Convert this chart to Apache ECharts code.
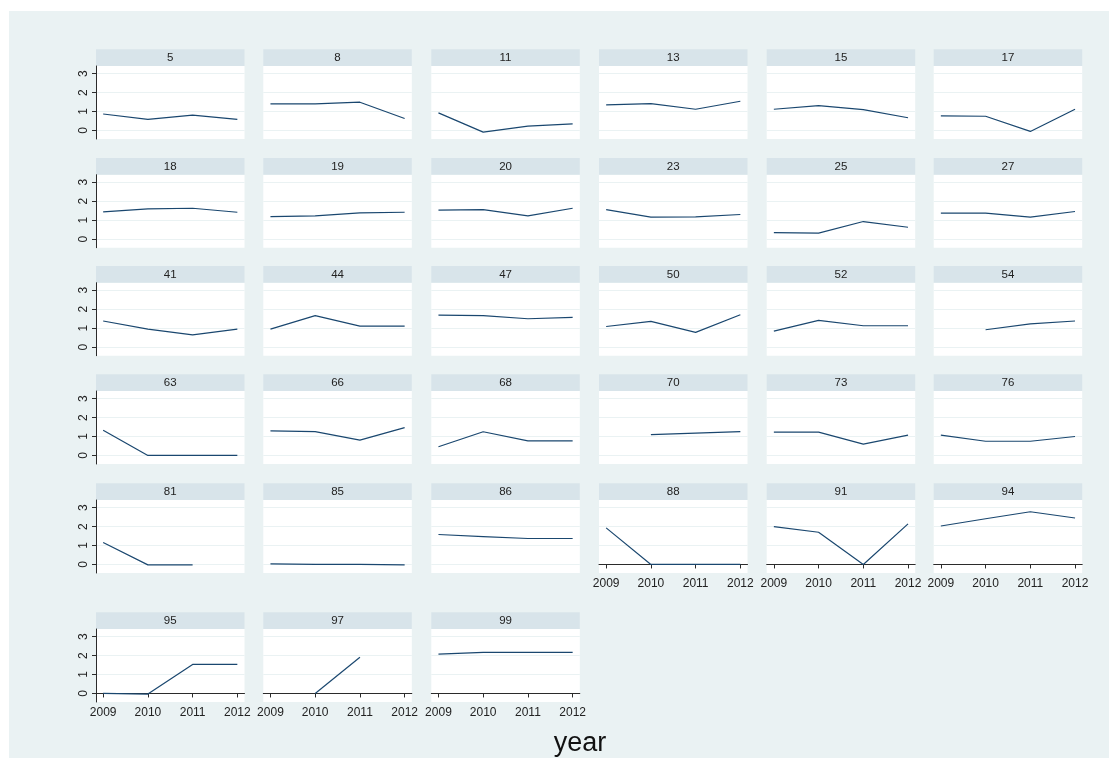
<!DOCTYPE html>
<html>
<head>
<meta charset="utf-8">
<title>year by panel</title>
<script src="https://cdn.jsdelivr.net/npm/echarts@6/dist/echarts.min.js"></script>
<style>
  html, body { margin: 0; padding: 0; background: #ffffff; }
  #chart { width: 1109px; height: 758px; }
</style>
</head>
<body>
<div id="chart"></div>
<script>
// Years on the x axis and tick values on the y axis
const years = [2009, 2010, 2011, 2012];
const yTicks = [0, 1, 2, 3];

// Panel identifiers, in reading order
const panelIds = ['5', '8', '11', '13', '15', '17',
                  '18', '19', '20', '23', '25', '27',
                  '41', '44', '47', '50', '52', '54',
                  '63', '66', '68', '70', '73', '76',
                  '81', '85', '86', '88', '91', '94',
                  '95', '97', '99'];

// One value per year (2009..2012) for each panel; null = no observation
const g5  = [0.87, 0.58, 0.81, 0.58];
const g8  = [1.40, 1.40, 1.49, 0.63];
const g11 = [0.93, -0.09, 0.23, 0.35];
const g13 = [1.35, 1.42, 1.12, 1.54];
const g15 = [1.12, 1.31, 1.10, 0.67];
const g17 = [0.77, 0.75, -0.05, 1.12];
const g18 = [1.44, 1.60, 1.63, 1.42];
const g19 = [1.19, 1.23, 1.39, 1.42];
const g20 = [1.53, 1.56, 1.23, 1.63];
const g23 = [1.56, 1.16, 1.18, 1.30];
const g25 = [0.35, 0.32, 0.93, 0.63];
const g27 = [1.37, 1.37, 1.16, 1.46];
const g41 = [1.38, 0.95, 0.65, 0.95];
const g44 = [0.95, 1.66, 1.11, 1.11];
const g47 = [1.69, 1.66, 1.50, 1.57];
const g50 = [1.09, 1.36, 0.78, 1.71];
const g52 = [0.85, 1.41, 1.13, 1.13];
const g54 = [null, 0.92, 1.23, 1.38];
const g63 = [1.33, 0.00, 0.00, 0.00];
const g66 = [1.30, 1.26, 0.81, 1.47];
const g68 = [0.46, 1.25, 0.77, 0.77];
const g70 = [null, 1.10, 1.18, 1.26];
const g73 = [1.23, 1.23, 0.60, 1.07];
const g76 = [1.07, 0.75, 0.75, 1.00];
const g81 = [1.16, -0.02, -0.02, null];
const g85 = [0.03, 0.00, 0.00, -0.02];
const g86 = [1.58, 1.47, 1.37, 1.37];
const g88 = [1.93, 0.00, 0.00, 0.00];
const g91 = [2.00, 1.70, 0.00, 2.14];
const g94 = [2.03, 2.41, 2.78, 2.45];
const g95 = [0.00, -0.03, 1.53, 1.53];
const g97 = [null, 0.00, 1.91, null];
const g99 = [2.07, 2.17, 2.17, 2.17];

const panelValues = [g5, g8, g11, g13, g15, g17,
                     g18, g19, g20, g23, g25, g27,
                     g41, g44, g47, g50, g52, g54,
                     g63, g66, g68, g70, g73, g76,
                     g81, g85, g86, g88, g91, g94,
                     g95, g97, g99];

// ---- layout ----
const FONT = "'Liberation Sans', Arial, Helvetica, sans-serif";
const BG = '#eaf2f3';
const STRIP = '#d8e4ea';
const GRIDLINE = '#eaf2f3';
const AXIS = '#2b2b2b';
const LINE = '#1a476f';

const colLeft = [96, 263.3, 431.3, 599, 766.7, 933.7];
const rowTop = [49.3, 158, 266, 374.3, 483.3, 612.3];
const panelW = 148.5;
const stripH = 16.7;
const plotH = 73;
const nCols = 6;

// panels that carry the year axis (bottom of each column)
const xAxisPanels = new Set([27, 28, 29, 30, 31, 32]);

const grids = [], xAxes = [], yAxes = [], series = [];
const graphics = [{
  type: 'rect', z: -10, silent: true,
  shape: { x: 9, y: 11, width: 1100, height: 747 },
  style: { fill: BG }
}];

panelIds.forEach((id, i) => {
  const r = Math.floor(i / nCols), c = i % nCols;
  const left = colLeft[c], top = rowTop[r];
  const showX = xAxisPanels.has(i);
  const showY = c === 0;

  graphics.push({
    type: 'rect', silent: true,
    shape: { x: left, y: top, width: panelW, height: stripH },
    style: { fill: STRIP }
  });
  graphics.push({
    type: 'text', silent: true,
    x: left + panelW / 2, y: top + stripH / 2 + 0.5,
    style: { text: id, fill: '#222', font: '11.5px ' + FONT, align: 'center', verticalAlign: 'middle' }
  });

  grids.push({
    left: left, top: top + stripH, width: panelW, height: plotH,
    show: true, backgroundColor: '#ffffff', borderWidth: 0
  });

  xAxes.push({
    type: 'value', gridIndex: i, min: 2008.84, max: 2012.16,
    axisLine: { show: showX, lineStyle: { color: AXIS, width: 1 } },
    axisTick: { show: showX, customValues: years, length: 4, lineStyle: { color: AXIS } },
    axisLabel: { show: showX, customValues: years, formatter: v => String(v),
                 color: '#222', fontSize: 12, fontFamily: FONT, margin: 5 },
    splitLine: { show: false }
  });

  yAxes.push({
    type: 'value', gridIndex: i, min: -0.45, max: 3.4,
    axisLine: { show: showY, onZero: false, lineStyle: { color: AXIS, width: 1 } },
    axisTick: { show: showY, customValues: yTicks, length: 4, lineStyle: { color: AXIS } },
    axisLabel: { show: showY, customValues: yTicks, rotate: 90, color: '#222', fontSize: 12, fontFamily: FONT, margin: 6 },
    splitLine: { show: true, lineStyle: { color: GRIDLINE, width: 1.2 } }
  });

  series.push({
    type: 'line', xAxisIndex: i, yAxisIndex: i,
    data: years.map((yr, k) => [yr, panelValues[i][k]]),
    showSymbol: false, connectNulls: false, silent: true,
    lineStyle: { color: LINE, width: 1.2 }
  });
});

graphics.push({
  type: 'text', silent: true,
  x: 580, y: 744,
  style: { text: 'year', fill: '#111', font: '27px ' + FONT, align: 'center', verticalAlign: 'middle' }
});

const chart = echarts.init(document.getElementById('chart'), null, { renderer: 'canvas' });
chart.setOption({
  animation: false,
  backgroundColor: 'transparent',
  grid: grids,
  xAxis: xAxes,
  yAxis: yAxes,
  series: series,
  graphic: graphics
});
</script>
</body>
</html>
